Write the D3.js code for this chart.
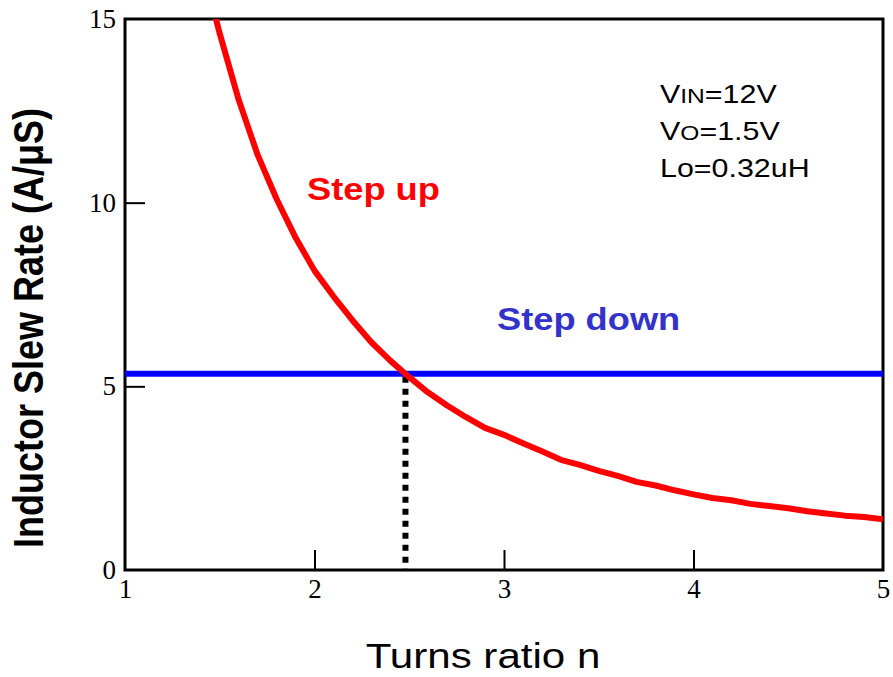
<!DOCTYPE html>
<html>
<head>
<meta charset="utf-8">
<script src="https://cdn.jsdelivr.net/npm/d3@7"></script>
<style>
  body { margin: 0; background: #fff; }
  text { font-family: "Liberation Sans", Arial, sans-serif; }
  .tick text { font-family: "Liberation Serif", "Times New Roman", serif; }
</style>
</head>
<body>
<script>
// turns ratio n vs inductor slew rate during step up
var turnsRatio = [1.45, 1.5, 1.6, 1.7, 1.8, 1.9, 2.0, 2.1, 2.2, 2.3, 2.4, 2.5, 2.6, 2.7, 2.8, 2.9, 3.0,
                  3.1, 3.2, 3.3, 3.4, 3.5, 3.6, 3.7, 3.8, 3.9, 4.0, 4.1, 4.2, 4.3, 4.4, 4.5, 4.6, 4.7, 4.8, 4.9, 5.0];
var stepUpRate = [15.6, 14.6, 12.8, 11.3, 10.1, 9.05, 8.15, 7.45, 6.8, 6.2, 5.7, 5.25, 4.83, 4.48, 4.16, 3.87, 3.68,
                  3.45, 3.23, 3.0, 2.86, 2.7, 2.56, 2.4, 2.3, 2.17, 2.06, 1.96, 1.9, 1.8, 1.74, 1.68, 1.6, 1.54, 1.48, 1.44, 1.38];
var stepDownRate = 5.34;
var crossN = 2.48;
var xTicks = [1, 2, 3, 4, 5];
var yTicks = [0, 5, 10, 15];
var notes = [["V", "IN", "=12V"], ["V", "O", "=1.5V"], ["L", "o", "=0.32uH"]];

var W = 893, H = 677;
var m = {left: 125, right: 10, top: 19, bottom: 107};
var sx = 1.17; // the source picture is a little wider than tall

var svg = d3.select("body").append("svg")
    .attr("width", W)
    .attr("height", H);

var x = d3.scaleLinear().domain([1, 5]).range([m.left, W - m.right]),
    y = d3.scaleLinear().domain([0, 15]).range([H - m.bottom, m.top]);

svg.append("clipPath").attr("id", "plot")
  .append("rect")
    .attr("x", x(1)).attr("y", y(15))
    .attr("width", x(5) - x(1)).attr("height", y(0) - y(15));

// axes with inward ticks
var xAxis = svg.append("g")
    .attr("transform", "translate(0," + y(0) + ")")
    .call(d3.axisBottom(x).tickValues(xTicks).tickSize(-20).tickPadding(9).tickFormat(d3.format("d")));
var yAxis = svg.append("g")
    .attr("transform", "translate(" + x(1) + ",0)")
    .call(d3.axisLeft(y).tickValues(yTicks).tickSize(-20).tickPadding(9).tickFormat(d3.format("d")));

[xAxis, yAxis].forEach(function(a) {
  a.select(".domain").remove();
  a.selectAll(".tick line").attr("stroke", "#000").attr("stroke-width", 2);
  a.selectAll(".tick text").attr("font-size", 27).attr("fill", "#000");
});
xAxis.selectAll(".tick text").attr("dy", "0.71em");
yAxis.selectAll(".tick text").attr("dy", "0.32em");
yAxis.selectAll(".tick").filter(d => d == 0 || d == 15).select("line").remove();
xAxis.selectAll(".tick").filter(d => d == 1 || d == 5).select("line").remove();

// frame
svg.append("rect")
    .attr("x", x(1)).attr("y", y(15))
    .attr("width", x(5) - x(1)).attr("height", y(0) - y(15))
    .attr("fill", "none").attr("stroke", "#000").attr("stroke-width", 3);

var plot = svg.append("g").attr("clip-path", "url(#plot)");

plot.append("line")
    .attr("x1", x(1)).attr("x2", x(5))
    .attr("y1", y(stepDownRate)).attr("y2", y(stepDownRate))
    .attr("stroke", "#0000ff").attr("stroke-width", 6);

plot.append("line")
    .attr("x1", x(crossN)).attr("x2", x(crossN))
    .attr("y1", y(stepDownRate) + 3).attr("y2", y(0))
    .attr("stroke", "#000").attr("stroke-width", 6)
    .attr("stroke-dasharray", "6,6");

plot.append("path")
    .datum(d3.zip(turnsRatio, stepUpRate))
    .attr("fill", "none")
    .attr("stroke", "#ff0000")
    .attr("stroke-width", 6)
    .attr("stroke-linejoin", "round")
    .attr("d", d3.line().x(d => x(d[0])).y(d => y(d[1])));

function label(px, py, size) {
  return svg.append("g")
      .attr("transform", "translate(" + px + "," + py + ") scale(" + sx + ",1)")
    .append("text")
      .attr("font-size", size);
}

label(307, 200, 31).attr("font-weight", "bold").attr("fill", "#ff0000").text("Step up");
label(497, 330, 31).attr("font-weight", "bold").attr("fill", "#3333cc").text("Step down");

notes.forEach(function(d, i) {
  var t = label(660, 103 + i * 37, 26).attr("fill", "#000");
  t.append("tspan").text(d[0]);
  t.append("tspan").attr("font-size", i < 2 ? 21 : 26).text(d[1]);
  t.append("tspan").text(d[2]);
});

label(483, 668, 36).attr("text-anchor", "middle").text("Turns ratio n");

svg.append("text")
    .attr("transform", "translate(43,328) rotate(-90) scale(1," + sx + ")")
    .attr("text-anchor", "middle")
    .attr("font-size", 36).attr("font-weight", "bold")
    .text("Inductor Slew Rate (A/\u03bcS)");
</script>
</body>
</html>
